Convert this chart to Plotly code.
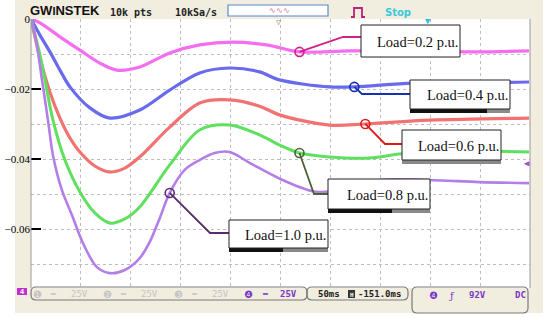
import numpy as np
import plotly.graph_objects as go

# ---------------- data ----------------
# time in ms (50 ms/div, 10 div), value in V
load_labels = ["Load=0.2 p.u.", "Load=0.4 p.u.", "Load=0.6 p.u.", "Load=0.8 p.u.", "Load=1.0 p.u."]

t_02 = [0, 9, 29, 49, 69, 86, 109, 139, 169, 202, 236, 269, 319, 389, 449, 499]
v_02 = [0, -0.0011, -0.0051, -0.0089, -0.0126, -0.0146, -0.0137, -0.0097, -0.0074,
        -0.0066, -0.0074, -0.0094, -0.0091, -0.0091, -0.0094, -0.0091]

t_04 = [0, 9, 19, 29, 39, 59, 79, 109, 139, 169, 199, 229, 249, 299, 324, 382, 439, 499]
v_04 = [0, -0.0046, -0.0094, -0.0146, -0.0194, -0.0254, -0.0283, -0.0260, -0.0203,
        -0.0154, -0.0140, -0.0151, -0.0174, -0.0194, -0.0194, -0.0183, -0.0183, -0.0180]

t_06 = [0, 9, 19, 29, 39, 49, 64, 79, 94, 109, 139, 169, 199, 229, 249, 299, 334, 399, 499]
v_06 = [0, -0.0111, -0.0209, -0.0283, -0.0340, -0.0380, -0.0420, -0.0437, -0.0426,
        -0.0394, -0.0309, -0.0240, -0.0231, -0.0249, -0.0274, -0.0303, -0.0300, -0.0289, -0.0283]

t_08 = [0, 9, 14, 22, 34, 49, 64, 79, 94, 109, 139, 169, 199, 229, 249, 269, 299, 339,
        369, 419, 499]
v_08 = [0, -0.0103, -0.0174, -0.0289, -0.0403, -0.0494, -0.0554, -0.0583, -0.0571,
        -0.0537, -0.0417, -0.0317, -0.0303, -0.0331, -0.0360, -0.0383, -0.0394, -0.0397,
        -0.0386, -0.0377, -0.0380]

t_10 = [0, 5, 11, 17, 22, 31, 41, 52, 66, 79, 94, 109, 119, 129, 139, 154, 169, 184,
        199, 219, 252, 286, 319, 349, 399, 449, 499]
v_10 = [0, -0.0060, -0.0174, -0.0289, -0.0389, -0.0489, -0.0560, -0.0640, -0.0709,
        -0.0726, -0.0717, -0.0683, -0.0637, -0.0569, -0.0497, -0.0431, -0.0403, -0.0383,
        -0.0380, -0.0411, -0.0460, -0.0494, -0.0483, -0.0460, -0.0460, -0.0466, -0.0469]

label_times = [269, 324, 335, 269, 139]     # where each callout touches its curve

y_tick_vals = [0, -0.02, -0.04, -0.06]
y_tick_text = ["0", "\u22120.02", "\u22120.04", "\u22120.06"]

# ---------------- layout geometry (pixels) ----------------
W, H = 550, 320
L, R, T, B = 31, 530, 19, 288
PX_PER_V = 3500.0
X_MAX = 500.0
Y_MIN = -(B - T) / PX_PER_V


def px(x):  # pixel x -> paper
    return (x - L) / (R - L)


def py(y):  # pixel y -> paper
    return (B - y) / (B - T)


def dx(x):  # pixel x -> data
    return (x - L) * X_MAX / (R - L)


def dy(y):  # pixel y -> data
    return -(y - T) / PX_PER_V


series = [
    (t_02, v_02, "#F46EEF", 3.2),
    (t_04, v_04, "#6A6AEE", 3.2),
    (t_06, v_06, "#F27272", 3.2),
    (t_08, v_08, "#5FE05F", 3.0),
    (t_10, v_10, "#B47EE8", 2.6),
]
call_colors = ["#D0208A", "#1530B0", "#E01818", "#4B6235", "#5A2A6A"]

fig = go.Figure()
for (tt, vv, col, w) in series:
    fig.add_trace(go.Scatter(x=tt, y=vv, mode="lines",
                             line=dict(color=col, width=w, shape="spline", smoothing=0.9),
                             hoverinfo="skip", showlegend=False))

# dots on curves
for (tt, vv, _, _), lt, cc in zip(series, label_times, call_colors):
    fig.add_trace(go.Scatter(x=[lt], y=[float(np.interp(lt, tt, vv))], mode="markers",
                             marker=dict(symbol="circle-open", size=9, color=cc,
                                         line=dict(width=1.6, color=cc)),
                             hoverinfo="skip", showlegend=False))

shapes = []
annotations = []


def prect(x0, y0, x1, y1, fill, lc=None, lw=0, layer="above"):
    shapes.append(dict(type="rect", xref="paper", yref="paper",
                       x0=px(x0), x1=px(x1), y0=py(y1), y1=py(y0),
                       fillcolor=fill, line=dict(color=lc or fill, width=lw), layer=layer))


def rrect(x0, y0, x1, y1, r, lc, lw=1.2, fill="rgba(0,0,0,0)"):
    p = (f"M {px(x0 + r)},{py(y0)} L {px(x1 - r)},{py(y0)} "
         f"Q {px(x1)},{py(y0)} {px(x1)},{py(y0 + r)} "
         f"L {px(x1)},{py(y1 - r)} Q {px(x1)},{py(y1)} {px(x1 - r)},{py(y1)} "
         f"L {px(x0 + r)},{py(y1)} Q {px(x0)},{py(y1)} {px(x0)},{py(y1 - r)} "
         f"L {px(x0)},{py(y0 + r)} Q {px(x0)},{py(y0)} {px(x0 + r)},{py(y0)} Z")
    shapes.append(dict(type="path", xref="paper", yref="paper", path=p,
                       fillcolor=fill, line=dict(color=lc, width=lw), layer="above"))


def ptext(x, y, text, size, color, family="DejaVu Sans Mono", xanchor="left", bold=False):
    if bold:
        text = "<b>" + text + "</b>"
    annotations.append(dict(xref="paper", yref="paper", x=px(x), y=py(y), text=text,
                            showarrow=False, xanchor=xanchor, yanchor="middle",
                            font=dict(size=size, color=color, family=family),
                            borderpad=0))


# frame
prect(15, 0, 543, 313, "#F1EDDF", layer="below")
prect(L, T, R, B, "#FFFFFF", layer="below")
shapes.append(dict(type="line", xref="paper", yref="paper", x0=1, x1=1, y0=0, y1=1,
                   line=dict(color="#9A9A9A", width=1), layer="above"))
shapes.append(dict(type="line", xref="paper", yref="paper", x0=0, x1=0, y0=0, y1=1,
                   line=dict(color="#9A9A9A", width=1), layer="above"))

# header
ptext(29, 10, "GW<span style='font-size:11px'>I</span>NSTEK", 13, "#111111",
      family="Liberation Sans", bold=True)
ptext(109, 12, "10k pts", 10, "#222222", bold=True)
ptext(174, 12, "10kSa/s", 10, "#222222", bold=True)
prect(228, 5, 328, 16, "#FFFFFF", "#5A8AC8", 1.2)
ptext(268, 10, "\u223f\u223f\u223f", 8, "#E07090")
ptext(278, 22, "\u25bd", 8, "#909090", xanchor="center")
shapes.append(dict(type="path", xref="paper", yref="paper",
                   path=(f"M {px(351)},{py(17)} L {px(354)},{py(17)} L {px(354)},{py(8)} "
                         f"L {px(362)},{py(8)} L {px(362)},{py(17)} L {px(365)},{py(17)}"),
                   line=dict(color="#C0207A", width=1.8), layer="above"))
ptext(384, 12, "Stop", 10, "#3CC8DC", family="DejaVu Sans", bold=True)
ptext(428, 21, "\u25bc", 9, "#2EC0DC", xanchor="center")
ptext(527, 163, "\u25c0", 9, "#A050D8", xanchor="center")

# bottom status bar
prect(17, 288, 27, 295, "#C030D0")
ptext(22, 291.5, "4", 7, "#FFFFFF", xanchor="center", bold=True)
rrect(L, 287, 307, 300, 5, "#7A7A7A")
rrect(307, 287, 408, 300, 5, "#7A7A7A")
rrect(412, 287, 528, 313, 5, "#7A7A7A")
gray = "#C4C4C4"
purp = "#7A36C8"
for xc, lab in [(37, "\u2776"), (107, "\u2777"), (178, "\u2778")]:
    ptext(xc, 294, lab, 10, gray, family="DejaVu Sans", xanchor="center")
    ptext(xc + 16, 294, "\u2550", 8, gray, xanchor="center")
    ptext(xc + 33, 294, "25V", 9, gray)
ptext(248, 294, "\u2779", 10, purp, family="DejaVu Sans", xanchor="center")
ptext(265, 294, "\u2550", 8, purp, xanchor="center", bold=True)
ptext(279, 294, "25V", 9, purp, bold=True)
ptext(317, 294, "50ms", 9, "#222222", bold=True)
prect(348, 290, 355, 298, "#333333")
ptext(351.5, 294, "H", 6, "#FFFFFF", xanchor="center", bold=True)
ptext(357, 294, "-151.0ms", 9, "#222222", bold=True)
ptext(433, 295, "\u2779", 10, purp, family="DejaVu Sans", xanchor="center")
ptext(452, 295, "\u0192", 10, purp, family="DejaVu Serif", xanchor="center")
ptext(468, 295, "92V", 9, purp, bold=True)
ptext(527, 295, "DC", 9, purp, xanchor="right", bold=True)

# callouts: (dot pixel is on the curve) elbow, box
call_boxes = [
    # elbow(x,y), box x0,y0,x1,y1, black-bar end (None = no bar)
    ((343, 37), (361, 25, 460, 57), None),
    ((362, 94), (410, 80, 510, 112), 487),
    ((385, 144), (402, 130, 501, 163), 402),
    ((314, 194), (328, 179, 430, 212), 392),
    ((210, 233), (229, 220, 328, 251), 283),
]
for (tt, vv, _, _), lt, cc, (elb, box, bar), lab in zip(series, label_times, call_colors,
                                                      call_boxes, load_labels):
    yv = float(np.interp(lt, tt, vv))
    bx0, by0, bx1, by1 = box
    ey = elb[1]
    shapes.append(dict(type="path", xref="x", yref="y",
                       path=f"M {lt},{yv} L {dx(elb[0])},{dy(ey)} L {dx(bx0)},{dy(ey)}",
                       line=dict(color=cc, width=1.8), layer="above"))
    if bar is not None:
        prect(bx0, by1 - 3, bx1, by1 + 1, "#8A8A8A")
        prect(bx0, by1 - 3, bar, by1 + 1, "#111111")
    prect(bx0, by0, bx1, by1 - 3 if bar is not None else by1, "#FFFFFF", "#222222", 1)
    ptext(bx1 - 1, (by0 + by1 - (3 if bar is not None else 0)) / 2 + 1, lab, 14.5,
          "#111111", family="Liberation Serif", xanchor="right")

fig.update_layout(
    width=W, height=H,
    margin=dict(l=L, r=W - R, t=T, b=H - B, pad=0, autoexpand=False),
    paper_bgcolor="#FFFFFF", plot_bgcolor="#FFFFFF",
    shapes=shapes, annotations=annotations, showlegend=False,
    xaxis=dict(range=[0, X_MAX], showticklabels=False, ticks="", zeroline=False,
               dtick=50, tick0=0, showgrid=True, gridcolor="#BDBDBD", griddash="dot",
               gridwidth=1, showline=False, fixedrange=True, automargin=False),
    yaxis=dict(range=[Y_MIN, 0], tickvals=y_tick_vals, ticktext=y_tick_text,
               ticks="inside", ticklen=10, tickwidth=2, tickcolor="#000000",
               tickfont=dict(family="Liberation Serif", size=11, color="#000000"),
               showgrid=False, zeroline=False, showline=False, fixedrange=True,
               automargin=False,
               minor=dict(dtick=0.01, tick0=0, showgrid=True, gridcolor="#BDBDBD",
                          griddash="dot", ticks="")),
)

fig.write_html("out.html", config={"displayModeBar": False},
               post_script="document.body.style.margin='0px';")
